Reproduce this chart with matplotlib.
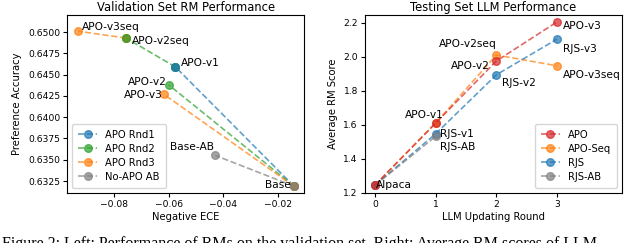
import matplotlib
matplotlib.use("Agg")
import matplotlib.pyplot as plt

# left panel: validation set RM performance (negative ECE, preference accuracy)
base = (-0.0142, 0.6319)
base_ab = (-0.0429, 0.6355)
apo_v1 = (-0.0575, 0.6459)
apo_v2 = (-0.0600, 0.6438)
apo_v3 = (-0.0618, 0.6427)
apo_v2seq = (-0.0756, 0.6493)
apo_v3seq = (-0.0931, 0.6501)

# right panel: testing set LLM performance
rounds = [0, 1, 2, 3]
apo_scores = [1.245, 1.610, 1.975, 2.205]
apo_seq_scores = [1.245, 1.610, 2.010, 1.947]
rjs_scores = [1.245, 1.547, 1.894, 2.104]
rjs_ab_rounds = [0, 1]
rjs_ab_scores = [1.245, 1.532]

fs = 7.2      # axis labels, legend
afs = 7.7     # point annotations
tfs = 6.6     # tick labels
fig = plt.figure(figsize=(6.4, 2.43), dpi=100)
ax1 = fig.add_axes([0.105, 0.206, 0.370, 0.732])
ax2 = fig.add_axes([0.570, 0.206, 0.402, 0.732])

kw = dict(ls="--", marker="o", alpha=0.7, ms=5.5, lw=1.2)
leg_kw = dict(fontsize=fs, handlelength=1.9, borderpad=0.6, labelspacing=0.4)

# left
ax1.plot([base[0], apo_v1[0]], [base[1], apo_v1[1]], color="tab:blue", label="APO Rnd1", **kw)
ax1.plot([base[0], apo_v2[0]], [base[1], apo_v2[1]], color="tab:green", label="APO Rnd2", **kw)
ax1.plot([apo_v1[0], apo_v2seq[0]], [apo_v1[1], apo_v2seq[1]], color="tab:green", **kw)
ax1.plot([base[0], apo_v3[0]], [base[1], apo_v3[1]], color="tab:orange", label="APO Rnd3", **kw)
ax1.plot([apo_v2seq[0], apo_v3seq[0]], [apo_v2seq[1], apo_v3seq[1]], color="tab:orange", **kw)
ax1.plot([base[0], base_ab[0]], [base[1], base_ab[1]], color="tab:gray", label="No-APO AB", **kw)
ax1.plot([apo_v1[0]], [apo_v1[1]], color="tab:blue", **kw)
ax1.plot([apo_v2seq[0]], [apo_v2seq[1]], color="tab:green", **kw)

ax1.annotate("APO-v3seq", apo_v3seq, xytext=(3, 1), textcoords="offset points", fontsize=afs)
ax1.annotate("APO-v2seq", apo_v2seq, xytext=(4, -4), textcoords="offset points", fontsize=afs)
ax1.annotate("APO-v1", apo_v1, xytext=(4, 1), textcoords="offset points", fontsize=afs)
ax1.annotate("APO-v2", apo_v2, xytext=(-1, 0), textcoords="offset points", fontsize=afs, ha="right")
ax1.annotate("APO-v3", apo_v3, xytext=(-1, -3), textcoords="offset points", fontsize=afs, ha="right")
ax1.annotate("Base-AB", base_ab, xytext=(-1, 4), textcoords="offset points", fontsize=afs, ha="right")
ax1.annotate("Base", base, xytext=(-2, -1), textcoords="offset points", fontsize=afs, ha="right")

ax1.set_xlim(-0.0971, -0.0105)
ax1.set_ylim(0.6311, 0.6520)
ax1.set_xticks([-0.08, -0.06, -0.04, -0.02])
ax1.set_yticks([0.6325, 0.6350, 0.6375, 0.6400, 0.6425, 0.6450, 0.6475, 0.6500])
ax1.yaxis.set_major_formatter(matplotlib.ticker.FormatStrFormatter("%.4f"))
ax1.set_title("Validation Set RM Performance", fontsize=8.3, pad=3)
ax1.set_xlabel("Negative ECE", fontsize=fs, labelpad=2)
ax1.set_ylabel("Preference Accuracy", fontsize=fs, labelpad=4)
ax1.tick_params(labelsize=tfs, length=3, pad=2)
ax1.legend(loc="lower left", **leg_kw)

# right
ax2.plot(rounds, apo_seq_scores, color="tab:orange", label="APO-Seq", zorder=2, **kw)
ax2.plot(rounds, apo_scores, color="tab:red", label="APO", zorder=3, **kw)
ax2.plot(rounds, rjs_scores, color="tab:blue", label="RJS", zorder=2, **kw)
ax2.plot(rjs_ab_rounds, rjs_ab_scores, color="tab:gray", label="RJS-AB", zorder=2, **kw)

ax2.annotate("Alpaca", (0, apo_scores[0]), xytext=(1, -2), textcoords="offset points", fontsize=afs)
ax2.annotate("APO-v1", (1, apo_scores[1]), xytext=(6, 4), textcoords="offset points", fontsize=afs, ha="right")
ax2.annotate("RJS-v1", (1, rjs_scores[1]), xytext=(3, -2), textcoords="offset points", fontsize=afs)
ax2.annotate("RJS-AB", (1, rjs_ab_scores[1]), xytext=(3, -10), textcoords="offset points", fontsize=afs)
ax2.annotate("APO-v2seq", (2, apo_seq_scores[2]), xytext=(0, 6), textcoords="offset points", fontsize=afs, ha="right")
ax2.annotate("APO-v2", (2, apo_scores[2]), xytext=(-5, -6), textcoords="offset points", fontsize=afs, ha="right")
ax2.annotate("RJS-v2", (2, rjs_scores[2]), xytext=(4, -8), textcoords="offset points", fontsize=afs)
ax2.annotate("APO-v3", (3, apo_scores[3]), xytext=(4, -5), textcoords="offset points", fontsize=afs)
ax2.annotate("RJS-v3", (3, rjs_scores[3]), xytext=(4, -9), textcoords="offset points", fontsize=afs)
ax2.annotate("APO-v3seq", (3, apo_seq_scores[3]), xytext=(4, -9), textcoords="offset points", fontsize=afs)

ax2.set_xlim(-0.165, 4.07)
ax2.set_ylim(1.2, 2.245)
ax2.set_xticks(rounds)
ax2.set_yticks([1.2, 1.4, 1.6, 1.8, 2.0, 2.2])
ax2.set_title("Testing Set LLM Performance", fontsize=8.3, pad=3)
ax2.set_xlabel("LLM Updating Round", fontsize=fs, labelpad=2)
ax2.set_ylabel("Average RM Score", fontsize=fs, labelpad=4)
ax2.tick_params(labelsize=tfs, length=3, pad=2)
h, l = ax2.get_legend_handles_labels()
order = [1, 0, 2, 3]
ax2.legend([h[i] for i in order], [l[i] for i in order], loc="lower right", **leg_kw)

fig.text(0.003, -0.02, "Figure 2: Left: Performance of RMs on the validation set. Right: Average RM scores of LLM",
         family="Liberation Serif", fontsize=11.5, va="baseline")

fig.savefig("out.png", dpi=100)
